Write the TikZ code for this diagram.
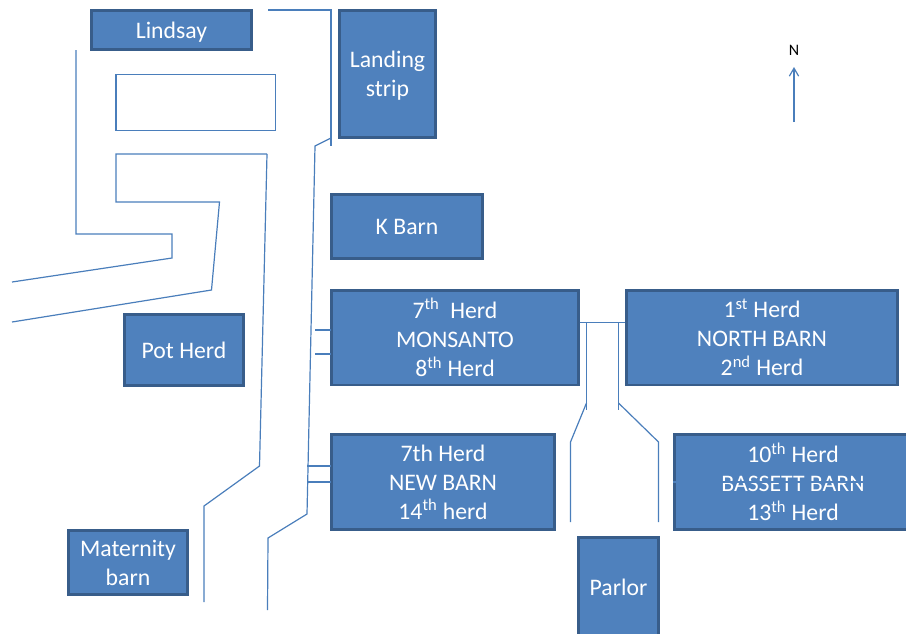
\documentclass[tikz,border=0pt]{standalone}
\usepackage{fontspec}
\setmainfont{Carlito}
\usetikzlibrary{arrows.meta}
\definecolor{barnfill}{HTML}{4F81BD}
\definecolor{barnedge}{HTML}{385D8A}
\definecolor{roadline}{HTML}{4A7EBB}

\begin{document}
\begin{tikzpicture}[x=0.75pt,y=-0.75pt,
    barn/.style={rectangle,draw=barnedge,fill=barnfill,line width=2pt,text=white,align=center,inner sep=0pt,font=\fontsize{17.8}{21.8}\selectfont},
    road/.style={draw=roadline,line width=0.9pt,line join=miter},
    arrow/.style={-{Straight Barb[length=6pt,width=7pt]}}]
    \path[use as bounding box,clip] (0,0) rectangle (906,633);
    % buildings
    \node[barn,minimum width=120pt,minimum height=29pt,text depth=0pt] (lindsay) at (171.5,30) {Lindsay};
    \node[barn,minimum width=72pt,minimum height=95pt,text depth=0pt] (landing) at (387.5,74) {Landing\\strip};
    \node[barn,minimum width=113pt,minimum height=48pt] (kbarn) at (407,226.5) {K Barn};
    \node[barn,minimum width=185pt,minimum height=71pt] (monsanto) at (455,337.5) {7\textsuperscript{th}~ Herd\\MONSANTO\\8\textsuperscript{th} Herd};
    \node[barn,minimum width=203pt,minimum height=71pt] (north) at (762,337.5) {1\textsuperscript{st} Herd\\NORTH BARN\\2\textsuperscript{nd} Herd};
    \node[barn,minimum width=89pt,minimum height=53pt] (pot) at (184,350) {Pot Herd};
    \node[barn,minimum width=167pt,minimum height=71pt] (newbarn) at (443,482) {7th Herd\\NEW BARN\\14\textsuperscript{th} herd};
    \node[barn,minimum width=178pt,minimum height=71pt] (bassett) at (793,482) {10\textsuperscript{th} Herd\\BASSETT BARN\\13\textsuperscript{th} Herd};
    \node[barn,minimum width=89pt,minimum height=48pt] (maternity) at (128,562.5) {Maternity\\barn};
    \node[barn,minimum width=60pt,minimum height=74pt] (parlor) at (618.5,587) {Parlor};
    \draw[barnfill,line width=0.9pt] (bassett.west) -- (bassett.east);
    % roads
    \draw[road] (268,10) -- (331,10) -- (331,146);
    \draw[road] (331,138) -- (315,146) -- (307,514) -- (268,538) -- (267.5,610);
    \draw[road] (267,154) -- (259.5,466) -- (204,506) -- (204,602);
    \draw[road] (116,74.5) rectangle (275.5,130.5);
    \draw[road] (267,154) -- (116,154) -- (116,202) -- (219.5,202) -- (211.5,290) -- (12,322);
    \draw[road] (76,50) -- (76,234) -- (172,234) -- (172,258) -- (12,282);
    % lanes to the barns
    \foreach \y in {330,354} {
        \draw[road] (315,\y) -- (331,\y);
    }
    \foreach \y in {466,482} {
        \draw[road] (307,\y) -- (331,\y);
    }
    \draw[road] (monsanto.east |- 0,322.5) -- (north.west |- 0,322.5);
    \draw[road] (586.5,322.5) -- (586.5,410);
    \draw[road] (618.5,322.5) -- (618.5,410);
    \draw[road] (586.5,403) -- (570.5,442) -- (570.5,522);
    \draw[road] (618.5,403) -- (658.5,442) -- (658.5,522);
    % north mark
    \node[font=\fontsize{12}{14}\selectfont] (nlabel) at (794,50) {N};
    \coordinate (nfoot) at (794,122);
    \draw[road,arrow] (nfoot) -- (nlabel.south |- 0,67);
\end{tikzpicture}
\end{document}
